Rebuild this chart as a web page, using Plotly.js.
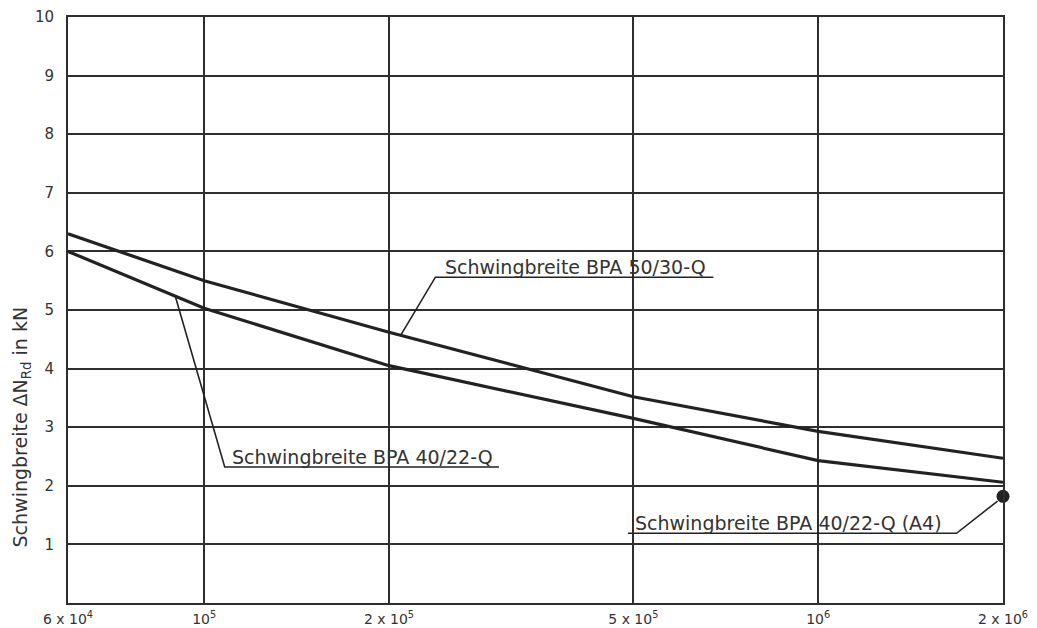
<!DOCTYPE html>
<html><head><meta charset="utf-8">
<script src="https://cdn.plot.ly/plotly-3.0.1.min.js"></script>
<style>html,body{margin:0;padding:0;background:#fff}</style>
</head><body><div id="chart" style="width:1037px;height:628px"></div>
<script>
// Load cycles N (x) and stress range ΔN_Rd in kN (y)
const cycles = [6e4, 1e5, 2e5, 5e5, 1e6, 2e6];
const bpa5030 = [6.3, 5.5, 4.62, 3.52, 2.93, 2.47];
const bpa4022 = [6.0, 5.03, 4.05, 3.15, 2.43, 2.06];
const a4Cycles = [2e6];
const a4Value = [1.82];

const xTickVals = [6e4, 1e5, 2e5, 5e5, 1e6, 2e6];
const xTickText = ['6 x 10<sup>4</sup>', '10<sup>5</sup>', '2 x 10<sup>5</sup>', '5 x 10<sup>5</sup>', '10<sup>6</sup>', '2 x 10<sup>6</sup>'];
const yTickVals = [1, 2, 3, 4, 5, 6, 7, 8, 9, 10];
const yTickText = ['1', '2', '3', '4', '5', '6', '7', '8', '9', '10'];

const label5030 = 'Schwingbreite BPA 50/30-Q';
const label4022 = 'Schwingbreite BPA 40/22-Q';
const labelA4 = 'Schwingbreite BPA 40/22-Q (A4)';
const yTitle = 'Schwingbreite ΔN<sub>Rd</sub> in kN';

// leader lines (curve point -> underline start -> underline end)
const lead5030X = [2.09e5, 2.38e5, 6.75e5];
const lead5030Y = [4.57, 5.56, 5.56];
const lead4022X = [8.97e4, 1.08e5, 3.02e5];
const lead4022Y = [5.24, 2.32, 2.32];
const leadA4X = [4.9e5, 1.68e6, 1.96e6];
const leadA4Y = [1.19, 1.19, 1.74];

const ink = '#222';
const gridInk = '#2e2e2e';
const fontFam = 'DejaVu Sans, sans-serif';

function leader(x, y) {
  return {x: x, y: y, type: 'scatter', mode: 'lines', line: {color: ink, width: 1.6},
          hoverinfo: 'skip', showlegend: false};
}

const traces = [
  {x: cycles, y: bpa5030, type: 'scatter', mode: 'lines', name: label5030,
   line: {color: ink, width: 3.2}, showlegend: false},
  {x: cycles, y: bpa4022, type: 'scatter', mode: 'lines', name: label4022,
   line: {color: ink, width: 3.2}, showlegend: false},
  leader(lead5030X, lead5030Y),
  leader(lead4022X, lead4022Y),
  leader(leadA4X, leadA4Y),
  {x: a4Cycles, y: a4Value, type: 'scatter', mode: 'markers', name: labelA4,
   marker: {color: ink, size: 13}, showlegend: false, cliponaxis: false}
];

function textAnn(txt, xv, yv) {
  return {text: txt, x: Math.log10(xv), y: yv, xref: 'x', yref: 'y',
          xanchor: 'left', yanchor: 'bottom', showarrow: false, yshift: -3,
          font: {family: fontFam, size: 19, color: '#333'}};
}

const layout = {
  width: 1037, height: 628,
  margin: {l: 68, r: 34, t: 17, b: 25, pad: 0},
  paper_bgcolor: '#fff', plot_bgcolor: '#fff',
  font: {family: fontFam, size: 14, color: '#333'},
  xaxis: {
    type: 'log', range: [Math.log10(6e4), Math.log10(2e6)],
    tickmode: 'array', tickvals: xTickVals, ticktext: xTickText,
    showgrid: true, gridcolor: gridInk, gridwidth: 2,
    showline: true, linecolor: gridInk, linewidth: 2, mirror: true,
    ticks: '', zeroline: false, ticklabelstandoff: 2,
    tickfont: {family: fontFam, size: 14, color: '#333'}
  },
  yaxis: {
    range: [0, 10], tickmode: 'array', tickvals: yTickVals, ticktext: yTickText,
    showgrid: true, gridcolor: gridInk, gridwidth: 2,
    showline: true, linecolor: gridInk, linewidth: 2, mirror: true,
    ticks: '', zeroline: false, ticklabelstandoff: 9,
    tickfont: {family: fontFam, size: 15, color: '#333'}
  },
  annotations: [
    textAnn(label5030, 2.45e5, 5.56),
    textAnn(label4022, 1.10e5, 2.32),
    textAnn(labelA4, 5.0e5, 1.19),
    {text: yTitle, xref: 'paper', yref: 'paper', x: -0.050, y: 0.30,
     xanchor: 'center', yanchor: 'middle', textangle: -90, showarrow: false,
     font: {family: fontFam, size: 19, color: '#333'}}
  ],
  showlegend: false
};

Plotly.newPlot('chart', traces, layout, {displayModeBar: false, staticPlot: true});
</script>
</body></html>
